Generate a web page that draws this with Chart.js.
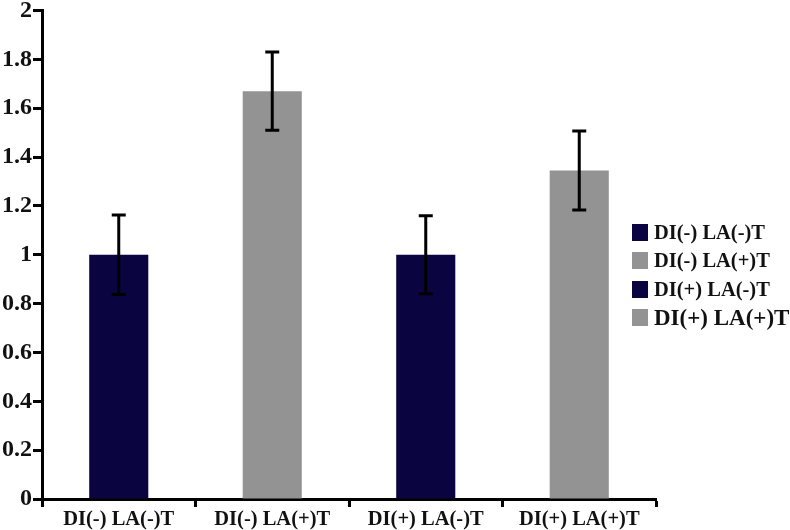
<!DOCTYPE html>
<html>
<head>
<meta charset="utf-8">
<script src="https://cdn.jsdelivr.net/npm/chart.js@4.4.1/dist/chart.umd.min.js"></script>
<style>
  html, body { margin: 0; padding: 0; background: #fff; }
  #wrap { position: relative; width: 790px; height: 530px; }
  #legend { position: absolute; left: 632px; top: 218px; font-family: "Liberation Serif", "Times New Roman", serif; font-weight: bold; color: #111; }
  .item { display: flex; align-items: center; height: 28.5px; white-space: nowrap; }
  .sw { width: 16px; height: 17px; margin-right: 6px; flex: none; }
</style>
</head>
<body>
<div id="wrap">
  <canvas id="c" width="790" height="530"></canvas>
  <div id="legend"></div>
</div>
<script>
const categories = ["DI(-) LA(-)T", "DI(-) LA(+)T", "DI(+) LA(-)T", "DI(+) LA(+)T"];
const values = [1.0, 1.67, 1.0, 1.345];
const errors = [0.163, 0.16, 0.16, 0.162];
const barColors = ["#0a0540", "#939393", "#0a0540", "#939393"];
const legendFontSizes = [20.5, 20.5, 20.5, 23];
const yTicks = [0, 0.2, 0.4, 0.6, 0.8, 1, 1.2, 1.4, 1.6, 1.8, 2];

const FONT = '"Liberation Serif", "Times New Roman", serif';

// HTML legend
const lg = document.getElementById('legend');
categories.forEach((c, i) => {
  const d = document.createElement('div');
  d.className = 'item';
  d.style.fontSize = legendFontSizes[i] + 'px';
  const s = document.createElement('span');
  s.className = 'sw';
  s.style.background = barColors[i];
  d.appendChild(s);
  d.appendChild(document.createTextNode(c));
  lg.appendChild(d);
});

const errorBarPlugin = {
  id: 'errorBars',
  afterDatasetsDraw(chart) {
    const ctx = chart.ctx;
    const meta = chart.getDatasetMeta(0);
    const ys = chart.scales.y;
    ctx.save();
    ctx.strokeStyle = '#000';
    ctx.lineWidth = 3;
    ctx.lineCap = 'butt';
    meta.data.forEach((bar, i) => {
      const x = bar.x;
      const top = ys.getPixelForValue(values[i] + errors[i]);
      const bot = ys.getPixelForValue(values[i] - errors[i]);
      const cap = 7;
      ctx.beginPath();
      ctx.moveTo(x, top); ctx.lineTo(x, bot);
      ctx.moveTo(x - cap, top); ctx.lineTo(x + cap, top);
      ctx.moveTo(x - cap, bot); ctx.lineTo(x + cap, bot);
      ctx.stroke();
    });
    ctx.restore();
  }
};

new Chart(document.getElementById('c'), {
  type: 'bar',
  data: {
    labels: categories,
    datasets: [{
      data: values,
      backgroundColor: barColors,
      borderWidth: 0,
      barPercentage: 0.385,
      categoryPercentage: 1.0
    }]
  },
  options: {
    responsive: false,
    animation: false,
    layout: { padding: { top: 10, right: 134, left: 0, bottom: 0 } },
    plugins: { legend: { display: false }, tooltip: { enabled: false } },
    scales: {
      x: {
        grid: { display: true, drawOnChartArea: false, offset: true, tickLength: 8, tickColor: '#000', tickWidth: 3 },
        border: { display: true, color: '#000', width: 3 },
        ticks: { color: '#111', font: { family: FONT, size: 20.5, weight: 'bold' }, padding: 0, maxRotation: 0, autoSkip: false },
        afterFit(s) { s.height = 31; }
      },
      y: {
        min: 0, max: 2,
        afterBuildTicks(s) { s.ticks = yTicks.map(v => ({ value: v })); },
        grid: { display: true, drawOnChartArea: false, tickLength: 9, tickColor: '#000', tickWidth: 3 },
        border: { display: true, color: '#000', width: 3 },
        ticks: { color: '#111', font: { family: FONT, size: 24, weight: 'bold', lineHeight: 0.8 }, padding: 1, callback: v => String(v) },
        afterFit(s) { s.width = 42; }
      }
    }
  },
  plugins: [errorBarPlugin]
});
</script>
</body>
</html>
